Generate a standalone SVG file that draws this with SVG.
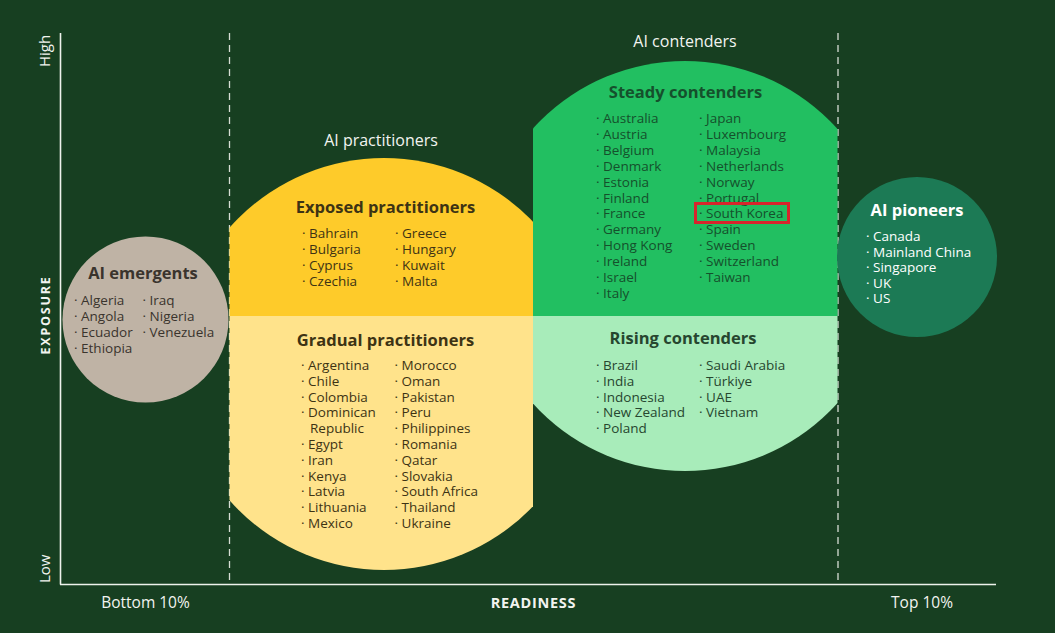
<svg xmlns="http://www.w3.org/2000/svg" width="1055" height="633" viewBox="0 0 1055 633">
<style>
.t{font-family:"Open Sans","Noto Sans","Liberation Sans",sans-serif;}
.title{font-size:16.5px;font-weight:700;text-anchor:middle;}
.item{font-size:13.5px;}
.ax{fill:#f2f4f0;}
.grp{font-size:16px;fill:#f2f4f0;text-anchor:middle;}
.dash{stroke:#d6ddd4;stroke-width:1.3;stroke-dasharray:7 5;fill:none;}
.axis{stroke:#eef2ec;stroke-width:1.6;fill:none;}
.yel{fill:#3d3314;}
.stg{fill:#15502c;}
.rsg{fill:#26462f;}
.emg{fill:#3a342d;}
.pio{fill:#ffffff;}
</style>
<defs>
<clipPath id="cpPracTop"><rect x="229.5" y="0" width="303.5" height="316"/></clipPath>
<clipPath id="cpPracBot"><rect x="229.5" y="316" width="303.5" height="317"/></clipPath>
<clipPath id="cpContTop"><rect x="533" y="0" width="304.5" height="316"/></clipPath>
<clipPath id="cpContBot"><rect x="533" y="316" width="304.5" height="317"/></clipPath>
</defs>
<rect x="0" y="0" width="1055" height="633" fill="#173f21"/>

<g id="axes">
<line class="dash" x1="229.5" y1="33" x2="229.5" y2="584"/>
<line class="dash" x1="838" y1="33" x2="838" y2="584"/>
<line class="axis" x1="60.5" y1="33" x2="60.5" y2="584.5"/>
<line class="axis" x1="60" y1="584.5" x2="996" y2="584.5"/>
<text class="t ax" font-size="15" transform="translate(50,67) rotate(-90)">High</text>
<text class="t ax" font-size="15" transform="translate(50,583) rotate(-90)">Low</text>
<text class="t ax" font-size="12.5" font-weight="700" letter-spacing="1.8" text-anchor="middle" transform="translate(50,315) rotate(-90)">EXPOSURE</text>
<text class="t ax" x="145.5" y="607.5" font-size="15.5" text-anchor="middle">Bottom 10%</text>
<text class="t ax" x="533.5" y="607.5" font-size="14.5" font-weight="700" letter-spacing="0.7" text-anchor="middle">READINESS</text>
<text class="t ax" x="922" y="607.5" font-size="15.5" text-anchor="middle">Top 10%</text>
</g>

<g id="ai-emergents">
<circle cx="145.5" cy="319.5" r="83" fill="#bfb3a5"/>
<text class="t title emg" x="143" y="279">AI emergents</text>
<g class="t item emg">
<text x="74" y="305">· Algeria</text>
<text x="74" y="321">· Angola</text>
<text x="74" y="337">· Ecuador</text>
<text x="74" y="353">· Ethiopia</text>
<text x="142.5" y="305">· Iraq</text>
<text x="142.5" y="321">· Nigeria</text>
<text x="142.5" y="337">· Venezuela</text>
</g>
</g>

<g id="ai-practitioners">
<text class="t grp" x="381" y="146">AI practitioners</text>
</g>

<g id="exposed-practitioners">
<circle cx="384" cy="364" r="206" fill="#fecb2a" clip-path="url(#cpPracTop)"/>
<text class="t title yel" x="385.5" y="213">Exposed practitioners</text>
<g class="t item yel">
<text x="302" y="238">· Bahrain</text>
<text x="302" y="254">· Bulgaria</text>
<text x="302" y="270">· Cyprus</text>
<text x="302" y="286">· Czechia</text>
<text x="395" y="238">· Greece</text>
<text x="395" y="254">· Hungary</text>
<text x="395" y="270">· Kuwait</text>
<text x="395" y="286">· Malta</text>
</g>
</g>

<g id="gradual-practitioners">
<circle cx="384" cy="364" r="206" fill="#ffe38b" clip-path="url(#cpPracBot)"/>
<text class="t title yel" x="385.5" y="346">Gradual practitioners</text>
<g class="t item yel">
<text x="301" y="370">· Argentina</text>
<text x="301" y="385.8">· Chile</text>
<text x="301" y="401.6">· Colombia</text>
<text x="301" y="417.4">· Dominican</text>
<text x="310" y="433.2">Republic</text>
<text x="301" y="449">· Egypt</text>
<text x="301" y="464.8">· Iran</text>
<text x="301" y="480.6">· Kenya</text>
<text x="301" y="496.4">· Latvia</text>
<text x="301" y="512.2">· Lithuania</text>
<text x="301" y="528">· Mexico</text>
<text x="394.5" y="370">· Morocco</text>
<text x="394.5" y="385.8">· Oman</text>
<text x="394.5" y="401.6">· Pakistan</text>
<text x="394.5" y="417.4">· Peru</text>
<text x="394.5" y="433.2">· Philippines</text>
<text x="394.5" y="449">· Romania</text>
<text x="394.5" y="464.8">· Qatar</text>
<text x="394.5" y="480.6">· Slovakia</text>
<text x="394.5" y="496.4">· South Africa</text>
<text x="394.5" y="512.2">· Thailand</text>
<text x="394.5" y="528">· Ukraine</text>
</g>
</g>

<g id="ai-contenders">
<text class="t grp" x="685" y="47">AI contenders</text>
</g>

<g id="steady-contenders">
<circle cx="685" cy="266" r="205" fill="#22bf61" clip-path="url(#cpContTop)"/>
<text class="t title stg" x="685.5" y="98">Steady contenders</text>
<g class="t item stg">
<text x="596" y="123">· Australia</text>
<text x="596" y="138.9">· Austria</text>
<text x="596" y="154.8">· Belgium</text>
<text x="596" y="170.7">· Denmark</text>
<text x="596" y="186.6">· Estonia</text>
<text x="596" y="202.5">· Finland</text>
<text x="596" y="218.4">· France</text>
<text x="596" y="234.3">· Germany</text>
<text x="596" y="250.2">· Hong Kong</text>
<text x="596" y="266.1">· Ireland</text>
<text x="596" y="282">· Israel</text>
<text x="596" y="297.9">· Italy</text>
<text x="699" y="123">· Japan</text>
<text x="699" y="138.9">· Luxembourg</text>
<text x="699" y="154.8">· Malaysia</text>
<text x="699" y="170.7">· Netherlands</text>
<text x="699" y="186.6">· Norway</text>
<text x="699" y="202.5">· Portugal</text>
<text x="699" y="218.4">· South Korea</text>
<text x="699" y="234.3">· Spain</text>
<text x="699" y="250.2">· Sweden</text>
<text x="699" y="266.1">· Switzerland</text>
<text x="699" y="282">· Taiwan</text>
</g>
<rect x="695.5" y="203.5" width="93" height="19" fill="none" stroke="#d7252c" stroke-width="3"/>
</g>

<g id="rising-contenders">
<circle cx="685" cy="266" r="205" fill="#a8ecba" clip-path="url(#cpContBot)"/>
<text class="t title rsg" x="683" y="344">Rising contenders</text>
<g class="t item rsg">
<text x="596" y="370">· Brazil</text>
<text x="596" y="385.8">· India</text>
<text x="596" y="401.6">· Indonesia</text>
<text x="596" y="417.4">· New Zealand</text>
<text x="596" y="433.2">· Poland</text>
<text x="699" y="370">· Saudi Arabia</text>
<text x="699" y="385.8">· Türkiye</text>
<text x="699" y="401.6">· UAE</text>
<text x="699" y="417.4">· Vietnam</text>
</g>
</g>

<g id="ai-pioneers">
<circle cx="917" cy="257" r="80" fill="#1c7a55"/>
<text class="t title pio" x="917" y="216">AI pioneers</text>
<g class="t item pio">
<text x="866" y="241">· Canada</text>
<text x="866" y="256.6">· Mainland China</text>
<text x="866" y="272.2">· Singapore</text>
<text x="866" y="287.8">· UK</text>
<text x="866" y="303.4">· US</text>
</g>
</g>
</svg>
